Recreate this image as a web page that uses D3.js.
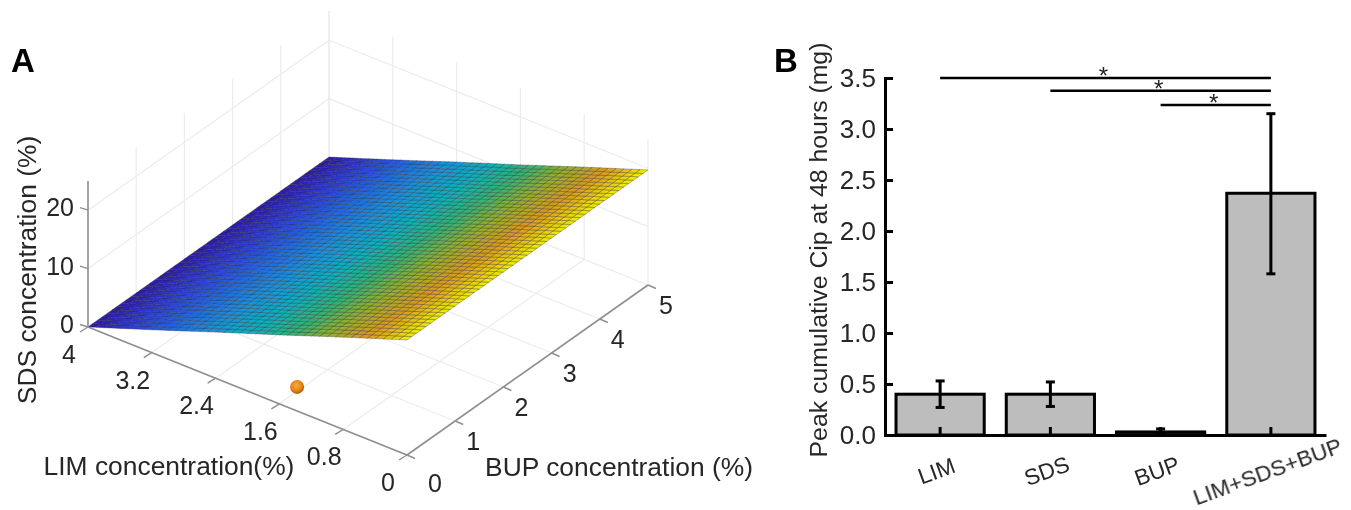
<!DOCTYPE html>
<html>
<head>
<meta charset="utf-8">
<script src="https://cdn.jsdelivr.net/npm/d3@7"></script>
<style>
  html, body { margin: 0; padding: 0; background: #fff; }
  svg { display: block; font-family: "Liberation Sans", Arial, sans-serif; }
</style>
</head>
<body>
<div id="chart"></div>
<script>
// panel A: axis ticks
const limTicks = [0, 0.8, 1.6, 2.4, 3.2, 4];
const bupTicks = [0, 1, 2, 3, 4, 5];
const sdsTicks = [0, 10, 20];
const sdsTop = 25;
// panel A: surface height at each LIM tick
const surfaceZ = [19.7, 15.8, 11.8, 7.9, 3.9, 0];
const surfaceCellsLim = 40;
const surfaceCellsBup = 50;
// panel A: optimum marker
const optimumLim = 1.65;
const optimumBup = 0.45;
const optimumSds = 0;
// surface colours, low to high
const surfaceColors = ["#2e1aa8", "#2c3cd8", "#2068e4", "#1a90dc", "#0cb0c4", "#2cb478", "#94b02c", "#dc981e", "#f0f000"];

// panel B: bars
const categories = ["LIM", "SDS", "BUP", "LIM+SDS+BUP"];
const peakValues = [0.40, 0.40, 0.03, 2.37];
const errLow = [0.27, 0.28, 0.00, 1.58];
const errHigh = [0.53, 0.52, 0.06, 3.15];
const yTicks = [0, 0.5, 1.0, 1.5, 2.0, 2.5, 3.0, 3.5];
// significance brackets: first category, y level
const sigFrom = ["LIM", "SDS", "BUP"];
const sigLevels = [3.5, 3.375, 3.235];

const svg = d3.select("#chart").append("svg").attr("width", 1351).attr("height", 510);
const defs = svg.append("defs");
const soft = defs.append("filter").attr("id", "soft");
soft.append("feGaussianBlur").attr("stdDeviation", 0.45);

const ball = defs.append("radialGradient").attr("id", "ball").attr("cx", "45%").attr("cy", "40%").attr("r", "60%");
ball.append("stop").attr("offset", "0%").attr("stop-color", "#f8ab44");
ball.append("stop").attr("offset", "65%").attr("stop-color", "#e58414");
ball.append("stop").attr("offset", "100%").attr("stop-color", "#a85a08");

const root = svg.append("g").attr("filter", "url(#soft)");

// ---- panel A ----
const a = root.append("g");
const origin = [407, 455];
const limDX = d3.scaleLinear().domain([0, 4]).range([0, -319]);
const limDY = d3.scaleLinear().domain([0, 4]).range([0, -128]);
const bupDX = d3.scaleLinear().domain([0, 5]).range([0, 241]);
const bupDY = d3.scaleLinear().domain([0, 5]).range([0, -170]);
const sdsDY = d3.scaleLinear().domain([0, sdsTop]).range([0, -146]);

const project = (l, b, z) => [
  origin[0] + limDX(l) + bupDX(b),
  origin[1] + limDY(l) + bupDY(b) + sdsDY(z)
];
const seg = (g, p, q, color, w) => g.append("line")
  .attr("x1", p[0]).attr("y1", p[1]).attr("x2", q[0]).attr("y2", q[1])
  .attr("stroke", color).attr("stroke-width", w);

const gridColor = "#ececec";
const limMax = d3.max(limTicks), bupMax = d3.max(bupTicks);

// floor and back walls
const grid = a.append("g");
limTicks.forEach(l => {
  seg(grid, project(l, 0, 0), project(l, bupMax, 0), gridColor, 1.2);
  seg(grid, project(l, bupMax, 0), project(l, bupMax, sdsTop), gridColor, 1.2);
});
bupTicks.forEach(b => {
  seg(grid, project(0, b, 0), project(limMax, b, 0), gridColor, 1.2);
  seg(grid, project(limMax, b, 0), project(limMax, b, sdsTop), gridColor, 1.2);
});
sdsTicks.filter(z => z > 0).forEach(z => {
  seg(grid, project(limMax, 0, z), project(limMax, bupMax, z), gridColor, 1.2);
  seg(grid, project(limMax, bupMax, z), project(0, bupMax, z), gridColor, 1.2);
});

// surface
const heightAt = d3.scaleLinear().domain(limTicks).range(surfaceZ);
const colorAt = d3.scaleLinear()
  .domain(surfaceColors.map((c, i) => i / (surfaceColors.length - 1)))
  .range(surfaceColors);
const zMax = d3.max(surfaceZ);
const limStep = limMax / surfaceCellsLim, bupStep = bupMax / surfaceCellsBup;
const cells = d3.cross(d3.range(surfaceCellsLim), d3.range(surfaceCellsBup));
const poly = ([i, j]) => {
  const l0 = i * limStep, l1 = (i + 1) * limStep, b0 = j * bupStep, b1 = (j + 1) * bupStep;
  return [[l0, b0], [l1, b0], [l1, b1], [l0, b1]]
    .map(([l, b]) => project(l, b, heightAt(l)).join(",")).join(" ");
};
a.append("g").selectAll("polygon").data(cells).join("polygon")
  .attr("points", poly)
  .attr("fill", ([i]) => colorAt(heightAt((i + 0.5) * limStep) / zMax))
  .attr("stroke", "#1c1c24")
  .attr("stroke-opacity", 0.42)
  .attr("stroke-width", 0.7);

// axes
const axisColor = "#8f8f8f";
const axisA = a.append("g");
seg(axisA, project(0, 0, 0), project(limMax, 0, 0), axisColor, 1.6);
seg(axisA, project(0, 0, 0), project(0, bupMax, 0), axisColor, 1.6);
seg(axisA, project(limMax, 0, 0), project(limMax, 0, sdsTop), axisColor, 1.6);
const addAt = (p, dx, dy) => [p[0] + dx, p[1] + dy];
limTicks.forEach(l => {
  const p = project(l, 0, 0);
  seg(axisA, p, addAt(p, -8, 5), axisColor, 1.4);
});
bupTicks.forEach(b => {
  const p = project(0, b, 0);
  seg(axisA, p, addAt(p, 8, 3.5), axisColor, 1.4);
});
sdsTicks.forEach(z => {
  const p = project(limMax, 0, z);
  seg(axisA, p, addAt(p, -8, -2.5), axisColor, 1.4);
});

const tickA = (p, text) => a.append("text").attr("x", p[0]).attr("y", p[1])
  .attr("text-anchor", "middle").attr("dominant-baseline", "central")
  .attr("font-size", 25).attr("fill", "#262626").text(text);
limTicks.forEach(l => tickA(addAt(project(l, 0, 0), -19, 27), l === 0 || l === 4 ? d3.format("d")(l) : d3.format(".1f")(l)));
bupTicks.forEach(b => tickA(addAt(project(0, b, 0), 18 + (b === 0 ? 10 : 0), 20 + (b === 0 ? 8 : 0)), b));
sdsTicks.forEach(z => {
  const p = project(limMax, 0, z);
  a.append("text").attr("x", p[0] - 14).attr("y", p[1] - 3)
    .attr("text-anchor", "end").attr("dominant-baseline", "central")
    .attr("font-size", 25).attr("fill", "#262626").text(z);
});

// optimum
const opt = project(optimumLim, optimumBup, optimumSds);
a.append("circle").attr("cx", opt[0]).attr("cy", opt[1]).attr("r", 7).attr("fill", "url(#ball)");

const labelA = (x, y, text, rot) => a.append("text")
  .attr("transform", `translate(${x},${y}) rotate(${rot || 0})`)
  .attr("text-anchor", "middle").attr("dominant-baseline", "central")
  .attr("font-size", 26.4).attr("fill", "#262626").text(text);
labelA(169, 466, "LIM concentration(%)");
labelA(619, 467, "BUP concentration (%)");
labelA(27, 270, "SDS concentration (%)", -90);

a.append("text").attr("x", 11).attr("y", 72).attr("font-size", 33).attr("font-weight", 700).attr("fill", "#000").text("A");

// ---- panel B ----
const b = root.append("g");
const x = d3.scaleBand().domain(categories).range([885, 1326]).paddingInner(0.2).paddingOuter(0.1);
const y = d3.scaleLinear().domain([0, 3.5]).range([435, 78]);
const mid = c => x(c) + x.bandwidth() / 2;

b.selectAll("rect").data(categories).join("rect")
  .attr("x", d => x(d))
  .attr("y", (d, i) => y(peakValues[i]))
  .attr("width", x.bandwidth())
  .attr("height", (d, i) => y(0) - y(peakValues[i]))
  .attr("fill", "#bdbdbd")
  .attr("stroke", "#000")
  .attr("stroke-width", 3);

// error bars
categories.forEach((c, i) => {
  const g = b.append("g").attr("stroke", "#000").attr("stroke-width", 3);
  g.append("line").attr("x1", mid(c)).attr("x2", mid(c)).attr("y1", y(errLow[i])).attr("y2", y(errHigh[i]));
  [errLow[i], errHigh[i]].forEach(v => {
    g.append("line").attr("x1", mid(c) - 4.5).attr("x2", mid(c) + 4.5).attr("y1", y(v)).attr("y2", y(v));
  });
});

const yAxis = d3.axisLeft(y).tickValues(yTicks).tickFormat(d3.format(".1f")).tickSize(-8).tickPadding(9);
const gy = b.append("g").attr("transform", "translate(885,0)").call(yAxis);
gy.select(".domain").attr("stroke", "#000").attr("stroke-width", 3);
gy.selectAll(".tick line").attr("stroke", "#000").attr("stroke-width", 3);
gy.selectAll("text").attr("font-size", 26).attr("font-family", "Liberation Sans").attr("fill", "#262626");

const xAxis = d3.axisBottom(x).tickSize(-8).tickSizeOuter(0).tickPadding(14);
const gx = b.append("g").attr("transform", "translate(0,435)").call(xAxis);
gx.select(".domain").attr("stroke", "#000").attr("stroke-width", 3);
gx.selectAll(".tick line").attr("stroke", "#000").attr("stroke-width", 3);
gx.selectAll("text").attr("font-size", 22.5).attr("font-family", "Liberation Sans").attr("fill", "#262626")
  .attr("text-anchor", "middle").attr("dominant-baseline", "central")
  .attr("transform", "translate(-8,24) rotate(-20)").attr("y", 13).attr("dy", 0);

b.append("text")
  .attr("transform", "translate(818,250) rotate(-90)")
  .attr("text-anchor", "middle").attr("dominant-baseline", "central")
  .attr("font-size", 24.8).attr("fill", "#262626")
  .text("Peak cumulative Cip at 48 hours (mg)");

// significance
const lastCat = categories[categories.length - 1];
sigFrom.forEach((c, i) => {
  const yy = y(sigLevels[i]);
  b.append("line").attr("x1", mid(c)).attr("x2", mid(lastCat)).attr("y1", yy).attr("y2", yy)
    .attr("stroke", "#000").attr("stroke-width", 2.4);
  b.append("text").attr("x", (mid(c) + mid(lastCat)) / 2 - 2).attr("y", yy + 6)
    .attr("text-anchor", "middle").attr("font-size", 24).attr("fill", "#222").text("*");
});

b.append("text").attr("x", 774).attr("y", 72).attr("font-size", 33).attr("font-weight", 700).attr("fill", "#000").text("B");
</script>
</body>
</html>
